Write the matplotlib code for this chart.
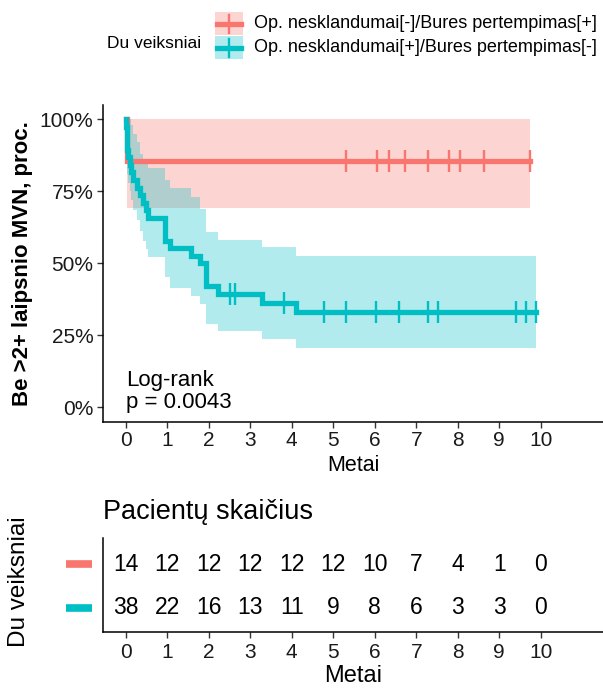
import matplotlib
matplotlib.use("Agg")
import matplotlib.pyplot as plt
from matplotlib.patches import Rectangle
from matplotlib.lines import Line2D
import numpy as np

plt.rcParams['font.family'] = ['Liberation Sans', 'DejaVu Sans']

# ---------------- data ----------------
groups = ["Op. nesklandumai[-]/Bures pertempimas[+]",
          "Op. nesklandumai[+]/Bures pertempimas[-]"]
colors = ["#F8766D", "#00BFC4"]

# group 1 (red)
red_t = [0.0, 0.02]
red_s = [1.0, 0.857]
red_up = [1.0, 1.0]
red_lo = [1.0, 0.692]
red_end = 9.73
red_cens = [5.30, 6.06, 6.35, 6.74, 7.28, 7.79, 8.06, 8.64, 9.73]

# group 2 (teal)
teal_t = [0.0, 0.01, 0.02, 0.03, 0.04, 0.06, 0.09, 0.13, 0.18, 0.26, 0.34,
          0.42, 0.48, 0.54, 0.94, 1.06, 1.58, 1.78, 1.94, 2.22, 3.28, 4.10]
teal_s = [1.0, 0.974, 0.947, 0.921, 0.895, 0.868, 0.842, 0.816, 0.789, 0.763,
          0.737, 0.711, 0.684, 0.658, 0.579, 0.553, 0.526, 0.500, 0.421,
          0.395, 0.364, 0.331]
teal_up = [1.0, 1.0, 1.0, 1.0, 1.0, 1.0, 1.0, 0.98, 0.95, 0.92, 0.88, 0.86,
           0.85, 0.83, 0.79, 0.76, 0.73, 0.69, 0.608, 0.582, 0.556, 0.524]
teal_lo = [1.0, 0.92, 0.88, 0.85, 0.81, 0.78, 0.75, 0.72, 0.684, 0.649,
           0.614, 0.579, 0.55, 0.521, 0.451, 0.416, 0.387, 0.358, 0.289,
           0.265, 0.236, 0.207]
teal_end = 9.89
teal_cens = [2.50, 2.64, 3.82, 4.77, 5.30, 6.02, 6.59, 7.28, 7.53, 9.41,
             9.64, 9.89]

risk_times = [0, 1, 2, 3, 4, 5, 6, 7, 8, 9, 10]
risk_red = [14, 12, 12, 12, 12, 12, 10, 7, 4, 1, 0]
risk_teal = [38, 22, 16, 13, 11, 9, 8, 6, 3, 3, 0]

yticks = [0, 0.25, 0.5, 0.75, 1.0]
ytick_labels = ["0%", "25%", "50%", "75%", "100%"]
xticks = list(range(0, 11))

# ---------------- figure ----------------
W, H = 603, 689
fig = plt.figure(figsize=(W / 100, H / 100), dpi=100)


def fr(x0, y0, x1, y1):
    """pixel box (top-left origin) -> figure fraction rect"""
    return [x0 / W, 1 - y1 / H, (x1 - x0) / W, (y1 - y0) / H]


ax = fig.add_axes(fr(103, 105, 603, 421.7))
XL = (-0.55, 11.5)


def step_ext(t, v, end):
    return list(t) + [end], list(v) + [v[-1]]


series = [
    (red_t, red_s, red_up, red_lo, red_end, red_cens, colors[0]),
    (teal_t, teal_s, teal_up, teal_lo, teal_end, teal_cens, colors[1]),
]
for t, s, up, lo, end, cens, c in series:
    tt, uu = step_ext(t, up, end)
    _, ll = step_ext(t, lo, end)
    ax.fill_between(tt, ll, uu, step='post', color=c, alpha=0.3, lw=0)
for t, s, up, lo, end, cens, c in series:
    tt, ss = step_ext(t, s, end)
    ax.step(tt, ss, where='post', color=c, lw=3.8, solid_joinstyle='miter')
    cs = [s[np.searchsorted(t, ct, side='right') - 1] for ct in cens]
    ax.plot(cens, cs, ls='none', marker='|', ms=16, mew=1.7, color=c)

ax.set_xlim(*XL)
ax.set_ylim(-0.05, 1.05)
ax.set_xticks(xticks)
ax.set_yticks(yticks)
ax.set_yticklabels(ytick_labels)
ax.tick_params(labelsize=15, length=4, width=1, color='#333333',
               labelcolor='#1a1a1a', pad=3)
for sp in ['top', 'right']:
    ax.spines[sp].set_visible(False)
for sp in ['left', 'bottom']:
    ax.spines[sp].set_linewidth(1.1)
ax.set_xlabel("Metai", fontsize=15.5, labelpad=3)
ax.set_ylabel("Be >2+ laipsnio MVN, proc.", fontsize=16, fontweight='bold',
              labelpad=5)
ax.text(0.0, 0.094, "Log-rank", fontsize=16, ha='left', va='center')
ax.text(0.0, 0.018, "p = 0.0043", fontsize=16, ha='left', va='center')

# ---------------- legend (manual) ----------------
fig.text(107 / W, 1 - 43 / H, "Du veiksniai", fontsize=12.5, ha='left',
         va='center')
for i, (g, c) in enumerate(zip(groups, colors)):
    y0, y1 = 12 + i * 24, 35 + i * 24
    rect = Rectangle((215 / W, 1 - y1 / H), 28 / W, (y1 - y0) / H,
                     transform=fig.transFigure, facecolor=c, alpha=0.3,
                     lw=0)
    fig.add_artist(rect)
    ym = (y0 + y1) / 2
    fig.add_artist(Line2D([217 / W, 241 / W], [1 - ym / H, 1 - ym / H],
                          transform=fig.transFigure, color=c, lw=3.8))
    fig.add_artist(Line2D([229 / W, 229 / W], [1 - (ym - 9) / H,
                                                1 - (ym + 9) / H],
                          transform=fig.transFigure, color=c, lw=1.7))
    fig.text(254 / W, 1 - ym / H, g, fontsize=13, ha='left', va='center')

# ---------------- risk table ----------------
rax = fig.add_axes(fr(103, 538, 603, 631.7))
rax.set_xlim(*XL)
rax.set_ylim(-0.55, 1.6)
for x, n in zip(risk_times, risk_red):
    rax.text(x, 1, str(n), fontsize=16.5, ha='center', va='center')
for x, n in zip(risk_times, risk_teal):
    rax.text(x, 0, str(n), fontsize=16.5, ha='center', va='center')
rax.set_xticks(xticks)
rax.set_yticks([])
rax.tick_params(labelsize=15, length=4, width=1, color='#333333',
                labelcolor='#1a1a1a', pad=4)
for sp in ['top', 'right']:
    rax.spines[sp].set_visible(False)
for sp in ['left', 'bottom']:
    rax.spines[sp].set_linewidth(1.1)
rax.set_xlabel("Metai", fontsize=17, labelpad=2)
for yv, c in [(1, colors[0]), (0, colors[1])]:
    rax.plot([-0.074, -0.022], [yv, yv], transform=rax.get_yaxis_transform(),
             color=c, lw=5.5, solid_capstyle='butt', clip_on=False)
fig.text(103 / W, 1 - 512 / H, "Pacientų skaičius", fontsize=19.5,
         ha='left', va='center')
fig.text(19 / W, 1 - 582 / H, "Du veiksniai", fontsize=17.5, ha='center',
         va='center', rotation=90)

fig.savefig("out.png", dpi=100)
